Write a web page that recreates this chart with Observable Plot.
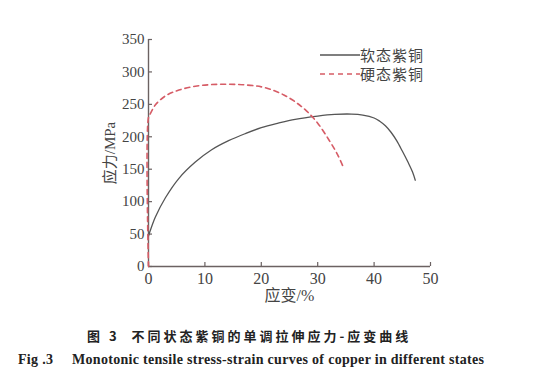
<!DOCTYPE html>
<html><head><meta charset="utf-8">
<script src="https://cdn.jsdelivr.net/npm/d3@7"></script>
<script src="https://cdn.jsdelivr.net/npm/@observablehq/plot@0.6"></script>
<style>
body{margin:0;background:#fff;width:560px;height:386px;position:relative;overflow:hidden;}
#chart{position:absolute;left:0;top:0;}
.leg{position:absolute;font-family:"Noto Sans CJK SC";font-size:15px;color:#444;display:flex;align-items:center;letter-spacing:1px;}
.cap1{position:absolute;left:87px;top:326px;font-family:"Noto Sans CJK SC";font-weight:bold;font-size:13px;color:#222;white-space:pre;letter-spacing:3px;}
.cap2{position:absolute;top:352px;font-family:"Liberation Serif";font-weight:bold;font-size:14px;color:#222;white-space:pre;letter-spacing:0.3px;}
</style></head>
<body>
<div id="chart"></div>
<div class="leg" style="left:320px;top:44px"><svg width="40" height="20"><line x1="0" x2="40" y1="10" y2="10" stroke="#555" stroke-width="1.3"/></svg><span id="l1"></span></div>
<div class="leg" style="left:320px;top:63px"><svg width="40" height="20"><line x1="0" x2="40" y1="10" y2="10" stroke="#d65c66" stroke-width="1.6" stroke-dasharray="5,4"/></svg><span id="l2"></span></div>
<div class="cap1" id="cap1"></div>
<div class="cap2" id="cap2a" style="left:18px"></div>
<div class="cap2" id="cap2b" style="left:72px"></div>
<script>
const seriesNames = ["软态紫铜", "硬态紫铜"];
const softStrain = [0,0.3,1.2,3,5.4,8.3,11.2,14.2,17.2,20,23,26,30,33,36,38,40,41,42,43,44,45,46,46.8,47.3];
const softStress = [47,55,76,106,136,161,180,194,205,214,221,227,232,234.5,235,233.5,229,224,217,207,194,178,161,146,133];
const hardStrain = [0,0,0.35,1.2,3,5.4,8.3,11.2,14.2,17.2,20,22,24,26,28,30,32,33.5,34.6];
const hardStress = [0,230,236,249,263,272,278,280.5,281,280,277,272,264.5,254,240,221,195,173,152];
const xTicks = [0,10,20,30,40,50];
const yTicks = [0,50,100,150,200,250,300,350];
const xLabel = "应变/%";
const yLabel = "应力/MPa";
const caption1 = "图 3  不同状态紫铜的单调拉伸应力-应变曲线";
const caption2a = "Fig .3";
const caption2b = "Monotonic tensile stress-strain curves of copper in different states";

const soft = softStrain.map((x,i)=>({x, y: softStress[i]}));
const hard = hardStrain.map((x,i)=>({x, y: hardStress[i]}));
const axisColor = "#6b6262";

const plot = Plot.plot({
  width: 560, height: 310,
  marginLeft: 148, marginRight: 130, marginTop: 39, marginBottom: 44,
  style: {fontFamily: "'Liberation Serif','Noto Sans CJK SC'", fontSize: "16px", color: "#444", background: "transparent"},
  x: {domain: [0,50]},
  y: {domain: [0,350]},
  marks: [
    Plot.axisX({ticks: xTicks, tickSize: 0, tickPadding: 6, label: xLabel, labelAnchor: "center", labelArrow: "none", labelOffset: 34, fontSize: 16}),
    Plot.axisY({ticks: yTicks, tickSize: 0, tickPadding: 4, label: yLabel, labelAnchor: "center", labelArrow: "none", labelOffset: 44, fontSize: 15}),
    Plot.tickX(xTicks, {x: d => d, stroke: axisColor, strokeWidth: 1.2, insetTop: 223}),
    Plot.tickY(yTicks, {y: d => d, stroke: axisColor, strokeWidth: 1.2, insetRight: 278}),
    Plot.ruleX([0], {stroke: axisColor, strokeWidth: 1.4}),
    Plot.ruleY([0], {stroke: axisColor, strokeWidth: 1.4}),
    Plot.line(soft, {x: "x", y: "y", stroke: "#555", strokeWidth: 1.3, curve: "catmull-rom"}),
    Plot.line(hard, {x: "x", y: "y", stroke: "#d65c66", strokeWidth: 1.6, strokeDasharray: "5,4", curve: "catmull-rom"})
  ]
});
document.getElementById("chart").appendChild(plot);
document.getElementById("l1").textContent = seriesNames[0];
document.getElementById("l2").textContent = seriesNames[1];
document.getElementById("cap1").textContent = caption1;
document.getElementById("cap2a").textContent = caption2a;
document.getElementById("cap2b").textContent = caption2b;
</script>
</body></html>
